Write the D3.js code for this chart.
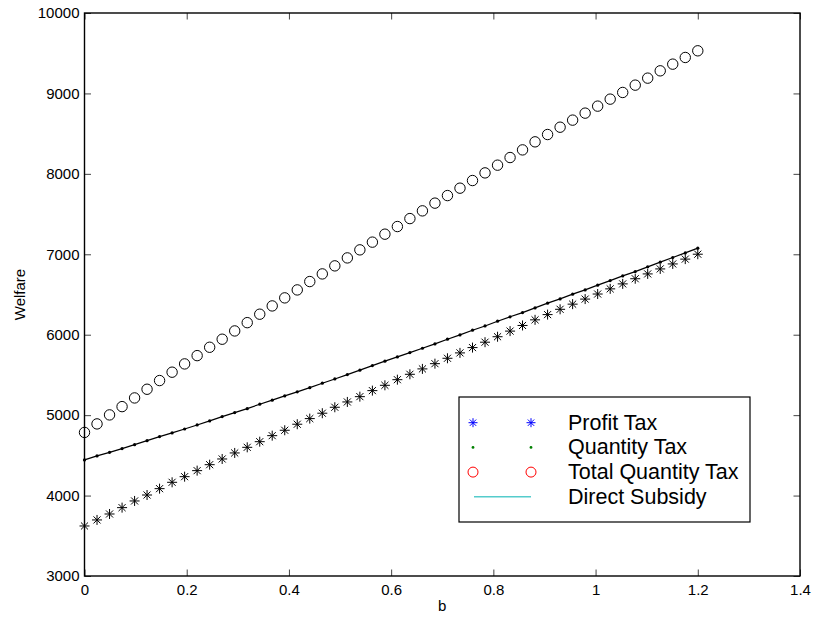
<!DOCTYPE html>
<html>
<head>
<meta charset="utf-8">
<script src="https://cdn.jsdelivr.net/npm/d3@7"></script>
<style>
  body { margin: 0; background: #fff; }
  svg { display: block; font-family: "Liberation Sans", Arial, sans-serif; }
</style>
</head>
<body>
<svg width="814" height="620"></svg>
<script>
let b = [0, 0.0245, 0.049, 0.0735, 0.098, 0.1224, 0.1469, 0.1714, 0.1959, 0.2204,
  0.2449, 0.2694, 0.2939, 0.3184, 0.3429, 0.3673, 0.3918, 0.4163, 0.4408, 0.4653,
  0.4898, 0.5143, 0.5388, 0.5633, 0.5878, 0.6122, 0.6367, 0.6612, 0.6857, 0.7102,
  0.7347, 0.7592, 0.7837, 0.8082, 0.8327, 0.8571, 0.8816, 0.9061, 0.9306, 0.9551,
  0.9796, 1.0041, 1.0286, 1.0531, 1.0776, 1.102, 1.1265, 1.151, 1.1755, 1.2];

let profitTax = [3622, 3697, 3771, 3850, 3933, 4007, 4086, 4165, 4235, 4310,
  4384, 4455, 4530, 4600, 4670, 4745, 4812, 4887, 4957, 5024,
  5098, 5164, 5230, 5305, 5371, 5441, 5508, 5575, 5640, 5707,
  5774, 5840, 5907, 5975, 6045, 6115, 6185, 6250, 6316, 6380,
  6443, 6506, 6570, 6632, 6696, 6756, 6818, 6880, 6940, 7001];

let quantityTax = [4443, 4493, 4538, 4584, 4633, 4683, 4733, 4779, 4828, 4878,
  4928, 4982, 5032, 5081, 5136, 5186, 5239, 5290, 5342, 5397,
  5450, 5504, 5559, 5616, 5671, 5724, 5778, 5832, 5886, 5944,
  5998, 6056, 6109, 6168, 6223, 6275, 6333, 6392, 6445, 6504,
  6557, 6616, 6673, 6731, 6785, 6844, 6902, 6960, 7017, 7076];

let totalQuantityTax = [4785, 4891, 5003, 5106, 5214, 5322, 5430, 5534, 5637, 5740,
  5844, 5944, 6047, 6150, 6255, 6358, 6458, 6557, 6661, 6756,
  6856, 6955, 7055, 7151, 7250, 7345, 7444, 7540, 7636, 7730,
  7822, 7917, 8012, 8108, 8203, 8298, 8398, 8489, 8580, 8668,
  8755, 8842, 8929, 9012, 9103, 9190, 9281, 9364, 9447, 9530];

let xTicks = [0, 0.2, 0.4, 0.6, 0.8, 1, 1.2, 1.4];
let yTicks = [3000, 4000, 5000, 6000, 7000, 8000, 9000, 10000];
let legendLabels = ['Profit Tax', 'Quantity Tax', 'Total Quantity Tax', 'Direct Subsidy'];

let svg = d3.select('svg');
let plotLeft = 84.5, plotRight = 800, plotTop = 13, plotBottom = 576;

let x = d3.scaleLinear().domain([0, 1.4]).range([plotLeft, plotRight]);
let y = d3.scaleLinear().domain([3000, 10000]).range([plotBottom, plotTop]);
let fmtX = d => String(+d.toFixed(1));

function styleAxis(g) {
  g.select('.domain').remove();
  g.selectAll('.tick line').attr('stroke', '#444').attr('stroke-width', 1);
  g.selectAll('.tick text').attr('fill', '#000').style('font-size', '15px');
}

svg.append('g')
  .attr('transform', 'translate(0,' + plotBottom + ')')
  .call(d3.axisBottom(x).tickValues(xTicks).tickFormat(fmtX).tickSizeInner(-6.5).tickSizeOuter(0).tickPadding(8))
  .call(styleAxis);

svg.append('g')
  .attr('transform', 'translate(0,' + plotTop + ')')
  .call(d3.axisTop(x).tickValues(xTicks).tickFormat('').tickSizeInner(-6.5).tickSizeOuter(0))
  .call(styleAxis);

svg.append('g')
  .attr('transform', 'translate(' + plotLeft + ',0)')
  .call(d3.axisLeft(y).tickValues(yTicks).tickFormat(d3.format('d')).tickSizeInner(-6.5).tickSizeOuter(0).tickPadding(5))
  .call(styleAxis);

svg.append('g')
  .attr('transform', 'translate(' + plotRight + ',0)')
  .call(d3.axisRight(y).tickValues(yTicks).tickFormat('').tickSizeInner(-6.5).tickSizeOuter(0))
  .call(styleAxis);

svg.append('rect')
  .attr('x', plotLeft).attr('y', plotTop)
  .attr('width', plotRight - plotLeft).attr('height', plotBottom - plotTop)
  .attr('fill', 'none').attr('stroke', '#000').attr('stroke-width', 1.4);

svg.append('text')
  .attr('x', (plotLeft + plotRight) / 2).attr('y', 611)
  .attr('text-anchor', 'middle').style('font-size', '15px')
  .text('b');

svg.append('text')
  .attr('transform', 'translate(25,' + (plotTop + plotBottom) / 2 + ') rotate(-90)')
  .attr('text-anchor', 'middle').style('font-size', '15px')
  .text('Welfare');

function star(g, cx, cy, r, color) {
  let d = r * Math.SQRT1_2;
  g.append('path')
    .attr('d', 'M' + (cx - r) + ',' + cy + 'H' + (cx + r) +
      'M' + cx + ',' + (cy - r) + 'V' + (cy + r) +
      'M' + (cx - d) + ',' + (cy - d) + 'L' + (cx + d) + ',' + (cy + d) +
      'M' + (cx - d) + ',' + (cy + d) + 'L' + (cx + d) + ',' + (cy - d))
    .attr('stroke', color).attr('stroke-width', 1).attr('fill', 'none');
}

let plot = svg.append('g');

// profit tax stars
let stars = plot.append('g');
profitTax.forEach((v, i) => star(stars, x(b[i]), y(v), 5, '#000'));

// quantity tax: line with dots
let line = d3.line().x((d, i) => x(b[i])).y(d => y(d));
plot.append('path')
  .datum(quantityTax)
  .attr('fill', 'none').attr('stroke', '#000').attr('stroke-width', 1.2)
  .attr('d', line);
plot.append('g').selectAll('circle')
  .data(quantityTax).join('circle')
  .attr('cx', (d, i) => x(b[i])).attr('cy', d => y(d))
  .attr('r', 1.6).attr('fill', '#000');

// total quantity tax circles
plot.append('g').selectAll('circle')
  .data(totalQuantityTax).join('circle')
  .attr('cx', (d, i) => x(b[i])).attr('cy', d => y(d))
  .attr('r', 5.2).attr('fill', 'none').attr('stroke', '#000').attr('stroke-width', 1);

// legend
let lg = svg.append('g');
lg.append('rect')
  .attr('x', 459).attr('y', 397).attr('width', 291).attr('height', 125)
  .attr('fill', '#fff').attr('stroke', '#000').attr('stroke-width', 1.2);

let rowY = i => 422.7 + i * 24.7;
[473, 531].forEach(mx => {
  star(lg, mx, rowY(0), 4.5, '#0000ff');
  lg.append('circle').attr('cx', mx).attr('cy', rowY(1)).attr('r', 1.4).attr('fill', '#008000');
  lg.append('circle').attr('cx', mx).attr('cy', rowY(2)).attr('r', 5)
    .attr('fill', 'none').attr('stroke', '#ff0000').attr('stroke-width', 1);
});
lg.append('line')
  .attr('x1', 474).attr('x2', 531).attr('y1', rowY(3)).attr('y2', rowY(3))
  .attr('stroke', '#55cccc').attr('stroke-width', 1.5);

lg.selectAll('text')
  .data(legendLabels).join('text')
  .attr('x', 568).attr('y', (d, i) => rowY(i) + 7)
  .style('font-size', '21.5px')
  .text(d => d);
</script>
</body>
</html>
